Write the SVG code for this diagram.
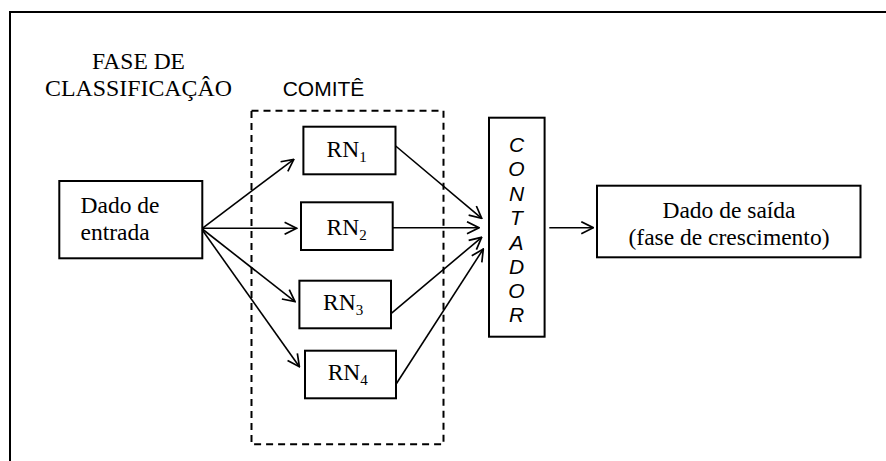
<svg xmlns="http://www.w3.org/2000/svg" width="886" height="461" viewBox="0 0 886 461">
<defs>
<style>
.box{fill:#fff;stroke:#000;stroke-width:2}
.tm{font-family:"Liberation Serif","Times New Roman",serif;font-size:23.5px;fill:#000}
.sub{font-size:15px}
.sans{font-family:"Liberation Sans",Arial,sans-serif;fill:#000}
.con{stroke:#000;stroke-width:1.6;fill:none;marker-end:url(#arr)}
</style>
<marker id="arr" viewBox="0 0 14 14" refX="13" refY="7" markerWidth="14" markerHeight="14" markerUnits="userSpaceOnUse" orient="auto">
<path d="M1,1 L13,7 L1,13" fill="none" stroke="#000" stroke-width="1.7"/>
</marker>
</defs>
<rect width="886" height="461" fill="#fff"/>
<path d="M10,461 V12 H886" fill="none" stroke="#000" stroke-width="2"/>

<g id="titulo">
<text class="tm" x="138.5" y="68.5" text-anchor="middle">FASE DE</text>
<text class="tm" x="138.5" y="96" text-anchor="middle" textLength="187" lengthAdjust="spacingAndGlyphs">CLASSIFICAÇÂO</text>
</g>

<g id="comite">
<text class="sans" x="282.7" y="96" font-size="21" textLength="81.7" lengthAdjust="spacingAndGlyphs">COMITÊ</text>
<rect x="251.5" y="110.7" width="192" height="333.6" fill="none" stroke="#000" stroke-width="2" stroke-dasharray="7,5"/>
</g>

<g id="entrada">
<rect class="box" x="59.3" y="181" width="143" height="77.3"/>
<text class="tm" x="80.5" y="213.3">Dado de</text>
<text class="tm" x="80.5" y="240">entrada</text>
</g>

<g id="rn1">
<rect class="box" x="303.4" y="126.7" width="92.1" height="47.6"/>
<text class="tm" x="326.5" y="156.7">RN<tspan class="sub" dy="5">1</tspan></text>
</g>
<g id="rn2">
<rect class="box" x="301" y="202.3" width="91.7" height="47.7"/>
<text class="tm" x="326.5" y="235">RN<tspan class="sub" dy="5">2</tspan></text>
</g>
<g id="rn3">
<rect class="box" x="299.4" y="280.7" width="91.6" height="47.6"/>
<text class="tm" x="323" y="310">RN<tspan class="sub" dy="5">3</tspan></text>
</g>
<g id="rn4">
<rect class="box" x="305" y="350.7" width="91" height="47.6"/>
<text class="tm" x="327.7" y="380">RN<tspan class="sub" dy="5">4</tspan></text>
</g>

<g id="contador">
<rect class="box" x="489" y="117.7" width="55.6" height="219"/>
<g class="sans" font-size="21" font-style="italic" text-anchor="middle">
<text x="516.5" y="151.5">C</text>
<text x="516.5" y="176">O</text>
<text x="516.5" y="200.5">N</text>
<text x="516.5" y="225">T</text>
<text x="516.5" y="249.5">A</text>
<text x="516.5" y="273.5">D</text>
<text x="516.5" y="298">O</text>
<text x="516.5" y="322">R</text>
</g>
</g>

<g id="saida">
<rect class="box" x="597" y="185.7" width="263.5" height="71.6"/>
<text class="tm" x="729" y="218.3" text-anchor="middle">Dado de saída</text>
<text class="tm" x="729" y="245" text-anchor="middle">(fase de crescimento)</text>
</g>

<g id="connectors">
<line class="con" x1="202.3" y1="228.3" x2="293.8" y2="159.3"/>
<line class="con" x1="202.3" y1="228.3" x2="296.6" y2="228.3"/>
<line class="con" x1="202.3" y1="229" x2="295" y2="301.7"/>
<line class="con" x1="202.3" y1="230" x2="299.4" y2="366.7"/>
<line class="con" x1="395.7" y1="146" x2="481.7" y2="218.3"/>
<line class="con" x1="392.7" y1="227.7" x2="479" y2="227.7"/>
<line class="con" x1="391" y1="313.7" x2="481.7" y2="237.3"/>
<line class="con" x1="396" y1="384.3" x2="483.3" y2="249"/>
<line class="con" x1="549.3" y1="227.7" x2="593.3" y2="227.7"/>
</g>
</svg>
